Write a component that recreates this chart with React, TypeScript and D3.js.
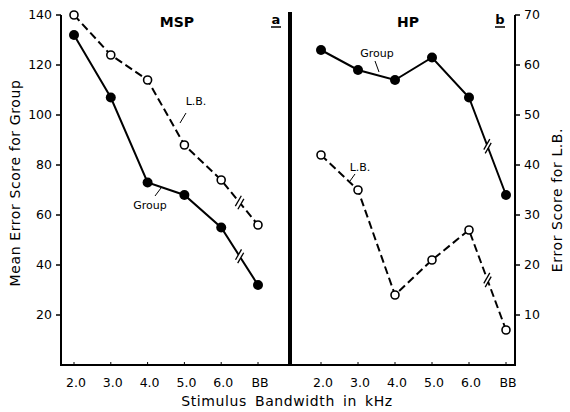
import React from "react";
import * as d3 from "d3";

const categories = ["2.0", "3.0", "4.0", "5.0", "6.0", "BB"];
const groupMSP = [132, 107, 73, 68, 55, 32];
const lbMSP = [70, 62, 57, 44, 37, 28];
const groupHP = [126, 118, 114, 123, 107, 68];
const lbHP = [42, 35, 14, 21, 27, 7];
const leftTicks = [20, 40, 60, 80, 100, 120, 140];
const rightTicks = [10, 20, 30, 40, 50, 60, 70];

const FONT = "'DejaVu Sans', sans-serif";

const W = 570, H = 412;
const yBase = 365;
const yL = d3.scaleLinear().domain([0, 140]).range([yBase, 15]);
const yR = d3.scaleLinear().domain([0, 70]).range([yBase, 15]);
const xMSP = d3.scalePoint<string>().domain(categories).range([74, 258]);
const xHP = d3.scalePoint<string>().domain(categories).range([321, 506]);

type Pt = [number, number];

function Series({ pts, dashed, open }: { pts: Pt[]; dashed: boolean; open: boolean }) {
  const line = d3.line<Pt>().x(d => d[0]).y(d => d[1]);
  const a = pts[4], b = pts[5];
  const mx = (a[0] + b[0]) / 2, my = (a[1] + b[1]) / 2;
  const ang = Math.atan2(b[1] - a[1], b[0] - a[0]);
  const ux = Math.cos(ang), uy = Math.sin(ang);
  const slashAng = -Math.PI / 3;
  const sx = Math.cos(slashAng), sy = Math.sin(slashAng);
  const L = 6;
  return (
    <g>
      <path d={line(pts) || ""} fill="none" stroke="#000" strokeWidth={2}
        strokeDasharray={dashed ? "8,4" : undefined} />
      <line x1={mx - ux * 2} y1={my - uy * 2} x2={mx + ux * 2} y2={my + uy * 2} stroke="#fff" strokeWidth={3} />
      {[-2, 2].map(o => (
        <line key={o}
          x1={mx + ux * o - sx * L} y1={my + uy * o - sy * L}
          x2={mx + ux * o + sx * L} y2={my + uy * o + sy * L}
          stroke="#000" strokeWidth={1.3} />
      ))}
      {pts.map((p, i) => open ? (
        <circle key={i} cx={p[0]} cy={p[1]} r={4} fill="#fff" stroke="#000" strokeWidth={1.6} />
      ) : (
        <circle key={i} cx={p[0]} cy={p[1]} r={5} fill="#000" />
      ))}
    </g>
  );
}

export default function App() {
  const gMSP: Pt[] = categories.map((c, i) => [xMSP(c)!, yL(groupMSP[i])]);
  const lMSP: Pt[] = categories.map((c, i) => [xMSP(c)!, yR(lbMSP[i])]);
  const gHP: Pt[] = categories.map((c, i) => [xHP(c)!, yL(groupHP[i])]);
  const lHP: Pt[] = categories.map((c, i) => [xHP(c)!, yR(lbHP[i])]);
  const tickFont = { fontFamily: FONT, fontSize: 12.5, fill: "#000" } as const;
  return (
    <svg width={W} height={H} style={{ position: "absolute", left: 0, top: 0, background: "#fff" }}>
      <rect x={0} y={0} width={W} height={H} fill="#fff" />
      <line x1={61} y1={yL(140)} x2={61} y2={yBase} stroke="#000" strokeWidth={2} />
      <line x1={515} y1={yR(70)} x2={515} y2={yBase} stroke="#000" strokeWidth={2} />
      <line x1={60} y1={yBase} x2={516} y2={yBase} stroke="#000" strokeWidth={2} />
      <line x1={290} y1={12} x2={290} y2={yBase + 1} stroke="#000" strokeWidth={4} />
      {leftTicks.map(t => (
        <g key={t}>
          <line x1={56} x2={61} y1={yL(t)} y2={yL(t)} stroke="#000" strokeWidth={1.5} />
          <text x={52} y={yL(t)} dy="0.35em" textAnchor="end" {...tickFont}>{t}</text>
        </g>
      ))}
      {rightTicks.map(t => (
        <g key={t}>
          <line x1={515} x2={520} y1={yR(t)} y2={yR(t)} stroke="#000" strokeWidth={1.5} />
          <text x={524} y={yR(t)} dy="0.35em" textAnchor="start" {...tickFont}>{t}</text>
        </g>
      ))}
      {categories.map(c => (
        <g key={"m" + c}>
          <line x1={xMSP(c)} x2={xMSP(c)} y1={yBase} y2={yBase - 3} stroke="#000" strokeWidth={1} />
          <text x={xMSP(c)! + 2} y={387} textAnchor="middle" {...tickFont}>{c}</text>
        </g>
      ))}
      {categories.map(c => (
        <g key={"h" + c}>
          <line x1={xHP(c)} x2={xHP(c)} y1={yBase} y2={yBase - 3} stroke="#000" strokeWidth={1} />
          <text x={xHP(c)! + 2} y={387} textAnchor="middle" {...tickFont}>{c}</text>
        </g>
      ))}
      <text transform="translate(20,183) rotate(-90)" textAnchor="middle" fontFamily={FONT} fontSize={14} letterSpacing={0.6}>Mean Error Score for Group</text>
      <text transform="translate(562,200) rotate(-90)" textAnchor="middle" fontFamily={FONT} fontSize={14} letterSpacing={0.6}>Error Score for L.B.</text>
      <text x={287} y={406} textAnchor="middle" fontFamily={FONT} fontSize={14} letterSpacing={0.6} wordSpacing={3}>Stimulus Bandwidth in kHz</text>
      <text x={177} y={27} textAnchor="middle" fontFamily={FONT} fontSize={14} fontWeight="bold">MSP</text>
      <text x={408} y={27} textAnchor="middle" fontFamily={FONT} fontSize={14} fontWeight="bold">HP</text>
      <text x={276} y={24} textAnchor="middle" fontFamily={FONT} fontSize={13} fontWeight="bold">a</text>
      <line x1={271} x2={281} y1={27} y2={27} stroke="#000" strokeWidth={1.5} />
      <text x={500} y={24} textAnchor="middle" fontFamily={FONT} fontSize={13} fontWeight="bold">b</text>
      <line x1={495} x2={505} y1={27} y2={27} stroke="#000" strokeWidth={1.5} />
      <Series pts={lMSP} dashed open />
      <Series pts={gMSP} dashed={false} open={false} />
      <Series pts={gHP} dashed={false} open={false} />
      <Series pts={lHP} dashed open />
      <text x={196} y={105} textAnchor="middle" fontFamily={FONT} fontSize={11}>L.B.</text>
      <line x1={186} y1={113} x2={180} y2={123} stroke="#000" strokeWidth={1} />
      <text x={150} y={209} textAnchor="middle" fontFamily={FONT} fontSize={11}>Group</text>
      <line x1={155} y1={196} x2={161} y2={188} stroke="#000" strokeWidth={1} />
      <text x={377} y={57} textAnchor="middle" fontFamily={FONT} fontSize={11}>Group</text>
      <line x1={375} y1={61} x2={379} y2={72} stroke="#000" strokeWidth={1} />
      <text x={360} y={171} textAnchor="middle" fontFamily={FONT} fontSize={11}>L.B.</text>
      <line x1={355} y1={174} x2={350} y2={181} stroke="#000" strokeWidth={1} />
    </svg>
  );
}
